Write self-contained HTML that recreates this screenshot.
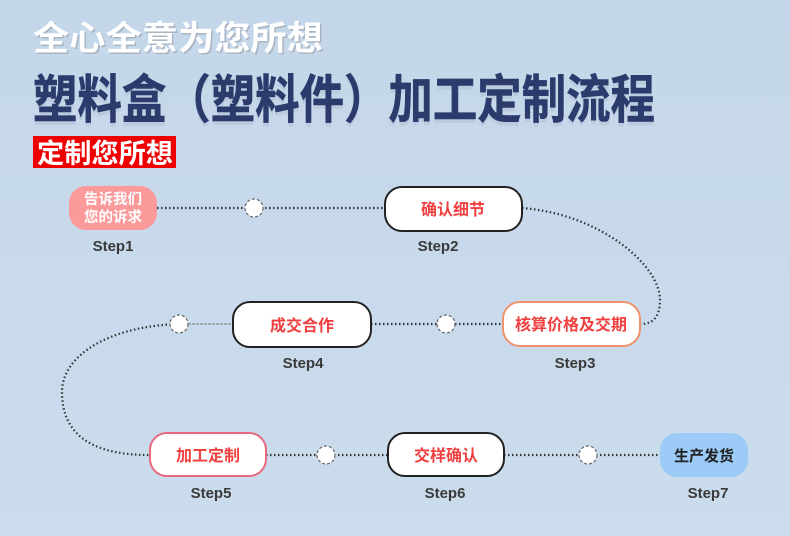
<!DOCTYPE html>
<html><head><meta charset="utf-8"><style>
html,body{margin:0;padding:0}
body{width:790px;height:536px;overflow:hidden;background:#c9dbec;}
svg{display:block}
</style></head><body>
<svg width="790" height="536" xmlns="http://www.w3.org/2000/svg" font-family="'Liberation Sans','Noto Sans CJK SC',sans-serif">
<defs>
<linearGradient id="bg" x1="0" y1="0" x2="0" y2="1"><stop offset="0" stop-color="#c4d7ea"/><stop offset="1" stop-color="#cbdcec"/></linearGradient>
</defs>
<rect width="790" height="536" fill="url(#bg)"/>
<text x="33" y="50" font-size="34" font-weight="bold" fill="#aab5c4" textLength="290" lengthAdjust="spacingAndGlyphs" dx="1.5" dy="1.5">全心全意为您所想</text>
<text x="33" y="50" font-size="34" font-weight="bold" fill="#ffffff" textLength="290" lengthAdjust="spacingAndGlyphs">全心全意为您所想</text>
<text x="33" y="122" font-size="52" font-weight="bold" fill="#aebdd2" opacity="0.45" textLength="622" lengthAdjust="spacingAndGlyphs">塑料盒（塑料件）加工定制流程</text>
<text x="33" y="118" font-size="52" font-weight="bold" fill="#2c3b6c" stroke="#2c3b6c" stroke-width="0.6" textLength="622" lengthAdjust="spacingAndGlyphs">塑料盒（塑料件）加工定制流程</text>
<rect x="33" y="136" width="143" height="32" fill="#ee0000"/>
<text x="37" y="163" font-size="27" font-weight="bold" fill="#fff" textLength="136" lengthAdjust="spacingAndGlyphs">定制您所想</text>

<g fill="none" stroke="#333" stroke-width="2.2" stroke-dasharray="1.5 2.5">
<path d="M157,208 H384"/>
<path d="M522,208 C600,214 660,265 660,300 C660,318 652,324 641,324"/>
<path d="M371,324 H502"/>
<path d="M179,324 C110,326 62,355 62,392 C62,440 100,455 149,455"/>
<path d="M266,455 H387"/>
<path d="M504,455 H660"/>
</g>
<path d="M188,324 H232" stroke="#888" stroke-width="1.2" stroke-dasharray="3 1"/>

<g fill="#fff" stroke="#666" stroke-width="1.2" stroke-dasharray="3 2">
<circle cx="254" cy="208" r="9"/>
<circle cx="446" cy="324" r="9"/>
<circle cx="179" cy="324" r="9"/>
<circle cx="326" cy="455" r="9"/>
<circle cx="588" cy="455" r="9"/>
</g>

<rect x="69" y="186" width="88" height="44" rx="17" fill="#fb9a9a"/>
<text x="113" y="204" font-size="14.5" font-weight="bold" fill="#fff" text-anchor="middle">告诉我们</text>
<text x="113" y="222" font-size="14.5" font-weight="bold" fill="#fff" text-anchor="middle">您的诉求</text>

<rect x="385" y="187" width="137" height="44" rx="17" fill="#fff" stroke="#222" stroke-width="2"/>
<text x="453" y="215" font-size="16" font-weight="bold" fill="#f04040" text-anchor="middle">确认细节</text>

<rect x="503" y="302" width="137" height="44" rx="17" fill="#fff" stroke="#f0926c" stroke-width="2"/>
<text x="571" y="330" font-size="16" font-weight="bold" fill="#f04040" text-anchor="middle">核算价格及交期</text>

<rect x="233" y="302" width="138" height="45" rx="17" fill="#fff" stroke="#222" stroke-width="2"/>
<text x="302" y="331" font-size="16" font-weight="bold" fill="#f04040" text-anchor="middle">成交合作</text>

<rect x="150" y="433" width="116" height="43" rx="17" fill="#fff" stroke="#e8687e" stroke-width="2"/>
<text x="208" y="461" font-size="16" font-weight="bold" fill="#f04040" text-anchor="middle">加工定制</text>

<rect x="388" y="433" width="116" height="43" rx="17" fill="#fff" stroke="#222" stroke-width="2"/>
<text x="446" y="461" font-size="16" font-weight="bold" fill="#f04040" text-anchor="middle">交样确认</text>

<rect x="660" y="433" width="88" height="44" rx="17" fill="#9ccbf8"/>
<text x="704" y="461" font-size="15" font-weight="bold" fill="#222" text-anchor="middle">生产发货</text>

<g font-size="15" font-weight="bold" fill="#3a3a3a" text-anchor="middle">
<text x="113" y="251">Step1</text>
<text x="438" y="251">Step2</text>
<text x="575" y="368">Step3</text>
<text x="303" y="368">Step4</text>
<text x="211" y="498">Step5</text>
<text x="445" y="498">Step6</text>
<text x="708" y="498">Step7</text>
</g>
</svg>
</body></html>
